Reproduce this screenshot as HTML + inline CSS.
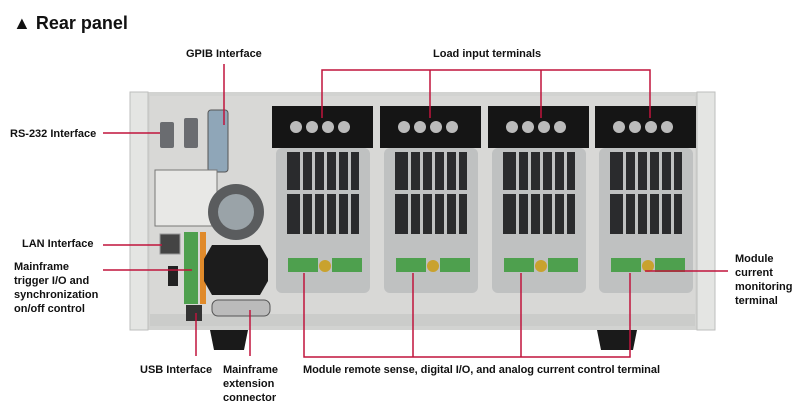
<!DOCTYPE html>
<html><head><meta charset="utf-8"><style>
html,body{margin:0;padding:0;background:#fff;width:800px;height:415px;overflow:hidden}
svg{display:block}
text{font-family:"Liberation Sans",sans-serif;font-weight:bold;fill:#111}
.l{font-size:11px}
.r{stroke:#c0143c;stroke-width:1.5;fill:none}
</style></head><body>
<svg width="800" height="415" viewBox="0 0 800 415">
<text x="13" y="29" style="font-size:18px">▲ Rear panel</text>
<!-- chassis -->
<rect x="130" y="92" width="585" height="238" fill="#d2d3d1" rx="3"/>
<rect x="130" y="92" width="18" height="238" fill="#e4e5e3" stroke="#bdbebc"/>
<rect x="697" y="92" width="18" height="238" fill="#e4e5e3" stroke="#bdbebc"/>
<rect x="150" y="96" width="545" height="218" fill="#d8d8d6"/>
<rect x="150" y="314" width="545" height="12" fill="#cbccca"/>
<!-- feet -->
<path d="M210 330h38l-4 20h-30z" fill="#1a1a1a"/>
<path d="M597 330h40l-4 20h-32z" fill="#1a1a1a"/>
<!-- left panel items -->
<rect x="160" y="122" width="14" height="26" fill="#6a6c70" rx="2"/>
<rect x="184" y="118" width="14" height="30" fill="#6a6c70" rx="2"/>
<rect x="208" y="110" width="20" height="62" fill="#8fa6b8" stroke="#555" rx="3"/>
<rect x="155" y="170" width="62" height="56" fill="#e8e8e6" stroke="#777"/>
<circle cx="236" cy="212" r="28" fill="#5a5c5e"/><circle cx="236" cy="212" r="18" fill="#9aa3a8"/>
<rect x="160" y="234" width="20" height="20" fill="#444" stroke="#999"/>
<rect x="184" y="232" width="14" height="72" fill="#4ea04e"/>
<rect x="200" y="232" width="6" height="72" fill="#e08a2a"/>
<path d="M212 245h48l8 14v22l-8 14h-48l-8-14v-22z" fill="#1c1c1c"/>
<rect x="168" y="266" width="10" height="20" fill="#222"/>
<rect x="186" y="305" width="16" height="16" fill="#333"/>
<rect x="212" y="300" width="58" height="16" fill="#bbb" stroke="#555" rx="6"/>
<!-- modules -->
<g id="m">
<rect x="272" y="106" width="101" height="42" fill="#151515"/>
<circle cx="296" cy="127" r="6" fill="#bbb"/><circle cx="312" cy="127" r="6" fill="#bbb"/><circle cx="328" cy="127" r="6" fill="#bbb"/><circle cx="344" cy="127" r="6" fill="#bbb"/>
<rect x="276" y="148" width="94" height="145" fill="#bfc1c1" rx="6"/>
<rect x="287" y="152" width="72" height="82" fill="#2a2b2d"/>
<rect x="300" y="152" width="3" height="82" fill="#bfc1c1"/><rect x="312" y="152" width="3" height="82" fill="#bfc1c1"/><rect x="324" y="152" width="3" height="82" fill="#bfc1c1"/><rect x="336" y="152" width="3" height="82" fill="#bfc1c1"/><rect x="348" y="152" width="3" height="82" fill="#bfc1c1"/>
<rect x="287" y="190" width="72" height="4" fill="#bfc1c1"/>
<rect x="288" y="258" width="30" height="14" fill="#4ea04e"/>
<rect x="332" y="258" width="30" height="14" fill="#4ea04e"/>
<circle cx="325" cy="266" r="6" fill="#c9a22e"/>
</g>
<use href="#m" x="108"/><use href="#m" x="216"/><use href="#m" x="323"/>
<!-- labels -->
<text class="l" x="186" y="57">GPIB Interface</text>
<path class="r" d="M224 64V125"/>
<text class="l" x="433" y="57">Load input terminals</text>
<path class="r" d="M322 118V70H650V118M430 70V118M541 70V118"/>
<text class="l" x="10" y="137">RS-232 Interface</text>
<path class="r" d="M103 133H160"/>
<text class="l" x="22" y="247">LAN Interface</text>
<path class="r" d="M103 245H162"/>
<text class="l" x="14" y="270">Mainframe</text>
<text class="l" x="14" y="284">trigger I/O and</text>
<text class="l" x="14" y="298">synchronization</text>
<text class="l" x="14" y="312">on/off control</text>
<path class="r" d="M103 270H192"/>
<text class="l" x="140" y="373">USB Interface</text>
<path class="r" d="M196 313V356"/>
<text class="l" x="223" y="373">Mainframe</text>
<text class="l" x="223" y="387">extension</text>
<text class="l" x="223" y="401">connector</text>
<path class="r" d="M250 310V356"/>
<text class="l" x="303" y="373" textLength="357">Module remote sense, digital I/O, and analog current control terminal</text>
<path class="r" d="M304 273V357H630V273M413 273V357M521 273V357"/>
<text class="l" x="735" y="262">Module</text>
<text class="l" x="735" y="276">current</text>
<text class="l" x="735" y="290">monitoring</text>
<text class="l" x="735" y="304">terminal</text>
<path class="r" d="M645 271H728"/>
</svg>
</body></html>
